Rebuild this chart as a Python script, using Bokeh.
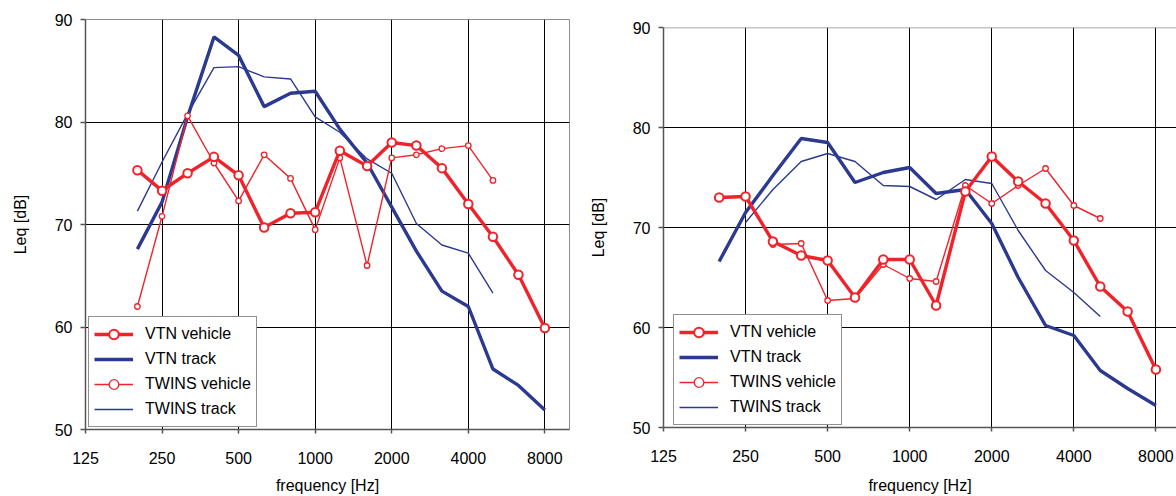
from bokeh.plotting import figure
from bokeh.models import Range1d, FixedTicker, PrintfTickFormatter, Legend, LegendItem, Span
from bokeh.layouts import row, column
from bokeh.embed import file_html
from bokeh.resources import INLINE

# 1/3-octave band centre frequencies [Hz]
freqs = [200, 250, 315, 400, 500, 630, 800, 1000, 1250, 1600, 2000, 2500, 3150, 4000, 5000, 6300, 8000]

# ---- left panel ----
left_vtn_vehicle = [75.3, 73.3, 75.0, 76.6, 74.8, 69.7, 71.1, 71.2, 77.2, 75.7, 78.0, 77.7, 75.5, 72.0, 68.8, 65.1, 59.9]
left_vtn_track = [67.6, 72.2, 80.5, 88.3, 86.5, 81.5, 82.8, 83.0, 79.3, 76.0, 71.7, 67.4, 63.5, 62.0, 55.9, 54.3, 51.9]
left_twins_vehicle_f = [200, 250, 315, 400, 500, 630, 800, 1000, 1250, 1600, 2000, 2500, 3150, 4000, 5000]
left_twins_vehicle = [62.0, 70.8, 80.6, 76.0, 72.3, 76.8, 74.5, 69.5, 76.5, 66.0, 76.5, 76.8, 77.4, 77.7, 74.3]
left_twins_track_f = [200, 250, 315, 400, 500, 630, 800, 1000, 1250, 1600, 2000, 2500, 3150, 4000, 5000]
left_twins_track = [71.3, 76.1, 80.8, 85.3, 85.4, 84.4, 84.2, 80.5, 79.0, 76.4, 75.0, 70.1, 68.0, 67.2, 63.3]

# ---- right panel ----
right_vtn_vehicle = [73.0, 73.1, 68.6, 67.2, 66.7, 63.0, 66.8, 66.8, 62.2, 73.6, 77.1, 74.6, 72.4, 68.7, 64.1, 61.6, 55.8]
right_vtn_track = [66.6, 71.5, 75.2, 78.9, 78.5, 74.5, 75.5, 76.0, 73.4, 73.8, 70.4, 65.0, 60.2, 59.2, 55.7, 53.9, 52.2]
right_twins_vehicle_f = [315, 400, 500, 630, 800, 1000, 1250, 1600, 2000, 2500, 3150, 4000, 5000]
right_twins_vehicle = [68.3, 68.4, 62.7, 62.9, 66.3, 64.9, 64.6, 74.2, 72.4, 74.2, 75.9, 72.2, 70.9]
right_twins_track_f = [250, 315, 400, 500, 630, 800, 1000, 1250, 1600, 2000, 2500, 3150, 4000, 5000]
right_twins_track = [70.5, 73.8, 76.6, 77.4, 76.6, 74.2, 74.1, 72.8, 74.8, 74.4, 69.7, 65.7, 63.5, 61.1]

x_ticks = [125, 250, 500, 1000, 2000, 4000, 8000]
y_ticks = [50, 60, 70, 80, 90]
legend_labels = ["VTN vehicle", "VTN track", "TWINS vehicle", "TWINS track"]

RED = "#f0222a"
BLUE = "#2b3990"
FONT = "Liberation Sans"
AXIS_COL = "#555555"


def make_panel(vv, vt, tvf, tv, ttf, tt, x_end, width, height, bl, br, bt, bb,
               legend_loc, outline, xlab_standoff):
    p = figure(width=width, height=height, x_axis_type="log",
               x_range=Range1d(125, x_end), y_range=Range1d(50, 90),
               output_backend="svg", toolbar_location=None,
               min_border_left=bl, min_border_right=br,
               min_border_top=bt, min_border_bottom=bb)
    p.background_fill_color = "white"
    p.border_fill_color = "white"
    if outline:
        p.outline_line_color = "#8c8c8c"
        p.outline_line_width = 1
    else:
        p.outline_line_color = None
        p.add_layout(Span(location=90, dimension="width", line_color="#8c8c8c", line_width=1.5))

    xt = FixedTicker(ticks=x_ticks)
    yt = FixedTicker(ticks=y_ticks)
    p.xaxis.ticker = xt
    p.yaxis.ticker = yt
    p.xgrid.ticker = xt
    p.ygrid.ticker = yt
    p.xaxis.formatter = PrintfTickFormatter(format="%d")
    for g in (p.xgrid, p.ygrid):
        g.grid_line_color = "black"
        g.grid_line_alpha = 1
        g.grid_line_width = 1

    for ax in (p.xaxis, p.yaxis):
        ax.axis_line_color = AXIS_COL
        ax.axis_line_width = 1.5
        ax.major_tick_line_color = AXIS_COL
        ax.major_tick_line_width = 1.5
        ax.major_tick_in = 0
        ax.minor_tick_line_color = None
        ax.major_label_text_font = FONT
        ax.major_label_text_font_size = "16px"
        ax.major_label_text_color = "black"
        ax.axis_label_text_font = FONT
        ax.axis_label_text_font_size = "16px"
        ax.axis_label_text_font_style = "normal"
        ax.axis_label_text_color = "black"
    p.xaxis.major_tick_out = 4
    p.yaxis.major_tick_out = 5
    p.xaxis.major_label_standoff = 18
    p.yaxis.major_label_standoff = 8
    p.xaxis.axis_label = "frequency [Hz]"
    p.yaxis.axis_label = "Leq [dB]"
    p.xaxis.axis_label_standoff = xlab_standoff
    p.yaxis.axis_label_standoff = 23

    r_tt = p.line(ttf, tt, line_color=BLUE, line_width=1.4)
    r_vt = p.line(freqs, vt, line_color=BLUE, line_width=3.4)
    r_tv = p.line(tvf, tv, line_color=RED, line_width=1.4)
    r_tvm = p.scatter(tvf, tv, marker="circle", size=5.5, fill_color="white",
                      line_color=RED, line_width=1.3)
    r_vv = p.line(freqs, vv, line_color=RED, line_width=3.4)
    r_vvm = p.scatter(freqs, vv, marker="circle", size=8.5, fill_color="white",
                      line_color=RED, line_width=2)

    legend = Legend(items=[
        LegendItem(label=legend_labels[0], renderers=[r_vv, r_vvm]),
        LegendItem(label=legend_labels[1], renderers=[r_vt]),
        LegendItem(label=legend_labels[2], renderers=[r_tv, r_tvm]),
        LegendItem(label=legend_labels[3], renderers=[r_tt]),
    ], location=legend_loc)
    legend.label_text_font = FONT
    legend.label_text_font_size = "16px"
    legend.label_text_color = "black"
    legend.glyph_width = 39
    legend.glyph_height = 24
    legend.label_height = 24
    legend.spacing = 1
    legend.padding = 5
    legend.margin = 0
    legend.label_standoff = 12
    legend.border_line_color = "#222222"
    legend.border_line_width = 1
    legend.background_fill_color = "white"
    legend.background_fill_alpha = 1
    p.add_layout(legend)
    return p


p1 = make_panel(left_vtn_vehicle, left_vtn_track, left_twins_vehicle_f, left_twins_vehicle,
                left_twins_track_f, left_twins_track, 10000, 585, 496, 85, 16, 19, 66,
                (3, 2), True, 10)
p2 = make_panel(right_vtn_vehicle, right_vtn_track, right_twins_vehicle_f, right_twins_vehicle,
                right_twins_track_f, right_twins_track, 9520, 591, 496, 78, 0, 27, 69,
                (10, 2), False, 12)

layout = row(column(p1), column(p2))
open("out.html", "w").write(file_html(layout, INLINE))
